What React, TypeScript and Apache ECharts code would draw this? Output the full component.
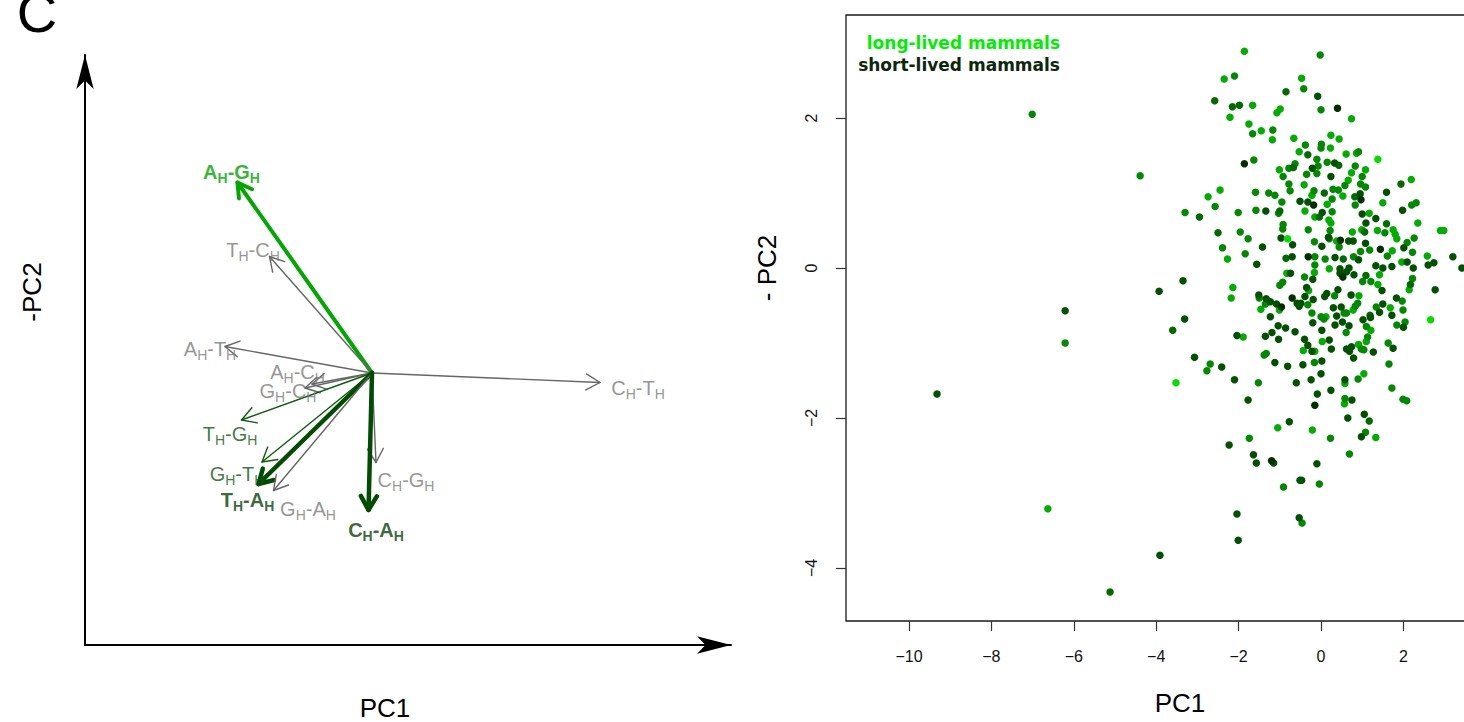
import React, { useEffect, useRef } from 'react';
import * as echarts from 'echarts';

// ---------- Left panel: loadings (biplot arrows) ----------
const loadingNames = ['A_H-G_H', 'T_H-C_H', 'A_H-T_H', 'C_H-T_H', 'A_H-C_H', 'G_H-C_H', 'T_H-G_H', 'G_H-T_H', 'T_H-A_H', 'G_H-A_H', 'C_H-G_H', 'C_H-A_H'];
const loadingPC1 = [-0.269, -0.205, -0.294, 0.456, -0.120, -0.134, -0.261, -0.220, -0.227, -0.197, 0.008, -0.007];
const loadingPC2 = [0.381, 0.233, 0.053, -0.019, -0.022, -0.030, -0.094, -0.178, -0.222, -0.235, -0.179, -0.274];
const loadingGroup = ['bright', 'gray', 'gray', 'gray', 'gray', 'gray', 'dark', 'dark', 'darkBold', 'gray', 'gray', 'darkBold'];
const labelPC1 = [-0.281, -0.238, -0.324, 0.532, -0.149, -0.168, -0.284, -0.270, -0.249, -0.128, 0.068, 0.008];
const labelPC2 = [0.403, 0.246, 0.049, -0.030, 0.003, -0.035, -0.121, -0.202, -0.254, -0.271, -0.214, -0.314];

// ---------- Right panel: PCA scores, by shade (lifespan) ----------
const veryDarkPts = [
  [-1.86, 1.39], [0.40, 2.13], [0.97, 0.91], [0.47, 0.37], [1.44, 0.25], [-0.31, 0.15], [-0.18, 0.84],
  [-0.96, -0.52], [-0.70, -0.40], [-1.20, -2.57], [0.53, -0.12], [-0.15, -1.83],
];
const darkPts = [
  [-1.34, 0.76], [-0.51, 0.89], [-0.97, 0.40], [-0.69, 0.31], [-1.42, 0.28], [-1.56, 0.05], [-0.70, 0.15],
  [-0.08, 2.29], [0.33, 1.40], [-0.21, 1.33], [0.24, 1.22], [-0.32, 0.88], [0.95, 0.99], [1.59, 1.01],
  [0.03, 0.74], [1.00, 0.72], [1.09, 0.60], [1.33, 0.66], [1.98, 0.77], [0.18, 0.41], [0.67, 0.36],
  [0.78, 0.36], [1.08, 0.33], [0.02, 0.29], [2.01, 0.27], [0.34, 0.14], [0.91, 0.11], [2.09, 0.08],
  [2.60, 0.04], [2.74, 0.07], [3.20, 0.15], [3.42, 0.00], [0.46, -0.01], [0.68, 0.00], [1.33, 0.03],
  [1.50, 0.00], [1.72, 0.02], [2.24, 0.00],
  [-0.74, -0.07], [-3.35, -0.17], [-3.93, -0.31], [-1.51, -0.36], [-1.33, -0.41], [-1.23, -0.45],
  [-1.08, -0.48], [-0.58, -0.47], [-0.53, -0.51], [-3.31, -0.68], [-1.23, -0.65], [-1.04, -0.77],
  [-0.86, -0.80], [-0.63, -0.85], [-1.19, -0.86], [-1.35, -0.91], [-1.03, -0.95], [-2.04, -0.90],
  [-1.12, -1.26], [-0.81, -1.31], [-3.07, -1.19], [-2.41, -1.32], [-2.10, -1.49], [-0.60, -1.53],
  [-1.77, -1.76], [-0.77, -2.05], [-2.23, -2.36], [-1.64, -2.49], [-1.57, -2.60], [-1.15, -2.60],
  [-0.51, -2.83],
  [-0.20, -0.15], [0.46, -0.07], [0.62, -0.05], [0.80, -0.09], [1.48, -0.30], [2.77, -0.29],
  [-0.35, -0.26], [-0.39, -0.38], [-0.19, -0.42], [-0.49, -0.47], [0.09, -0.38], [0.14, -0.34],
  [0.41, -0.29], [0.73, -0.36], [0.30, -0.53], [0.49, -0.52], [0.38, -0.64], [1.50, -0.48],
  [1.42, -0.59], [1.83, -0.40], [1.72, -0.63], [1.20, -0.66], [-0.20, -0.73], [0.34, -0.76],
  [0.52, -0.72], [0.68, -0.77], [1.02, -0.69], [2.00, -0.79], [0.02, -0.83], [-0.40, -0.95],
  [-0.32, -1.03], [-0.22, -1.11], [0.20, -0.96], [0.25, -1.08], [0.62, -1.08], [0.74, -1.05],
  [0.69, -1.11], [0.79, -1.20], [1.27, -1.12], [1.75, -1.07], [-0.44, -1.29], [0.02, -1.24],
  [0.00, -1.41], [-0.24, -1.49], [0.58, -1.49], [0.24, -1.63], [-0.09, -1.68], [0.75, -1.76],
  [1.05, -1.95], [0.65, -2.00], [0.98, -2.25], [-0.10, -2.61], [-0.47, -2.83],
  [-2.04, -3.28], [-0.53, -3.33], [-2.01, -3.63], [-3.91, -3.83], [-9.32, -1.68], [-6.21, -0.57],
];
const midDarkPts = [
  [-0.85, 2.35], [-2.58, 2.23], [-2.15, 2.15], [-1.98, 2.17], [-0.67, 1.34], [-2.95, 0.68], [-1.00, 0.76],
  [-2.50, 0.47], [-0.85, 0.13], [-0.32, 1.51], [0.43, 1.37], [0.08, 1.00], [0.82, 0.95], [1.94, 1.12],
  [-0.04, 0.68], [1.59, 0.59], [1.06, 0.48], [0.54, 0.12], [-3.60, -0.83], [1.09, -0.10], [2.17, -0.22],
  [1.19, -0.63], [1.17, -2.04], [-5.12, -4.32],
];
const mediumPts = [
  [-2.10, 2.56], [-1.66, 1.79], [-1.17, 1.84], [-1.63, 1.44], [-4.39, 1.23], [-0.78, 1.33], [-0.63, 1.39],
  [-0.92, 1.22], [-0.78, 1.12], [-0.75, 1.03], [-2.57, 0.82], [-3.30, 0.74], [-2.01, 0.74], [-1.59, 1.01],
  [-1.27, 1.00], [-1.12, 0.97], [-0.95, 0.88], [-1.58, 0.77], [-1.03, 0.73], [-0.92, 0.58], [-0.93, 0.52],
  [-1.96, 0.48], [-1.77, 0.39], [-2.39, 0.27], [-1.84, 0.19],
  [-0.02, 2.84], [-0.42, 2.39], [0.00, 2.11], [-0.38, 1.64], [0.01, 1.65], [0.00, 1.60], [0.91, 1.55],
  [-0.10, 1.45], [0.15, 1.41], [0.83, 1.36], [-0.07, 1.36], [-0.35, 1.25], [-0.10, 1.26], [1.00, 1.22],
  [0.58, 1.10], [0.96, 1.12], [1.08, 1.08], [-0.17, 1.03], [0.29, 1.05], [0.42, 1.04], [0.27, 0.92],
  [0.83, 0.84], [2.20, 0.84], [2.31, 0.87], [0.27, 0.75], [-0.31, 0.51], [0.22, 0.50], [1.55, 0.47],
  [2.26, 0.40], [-0.16, 0.35], [0.20, 0.39], [2.09, 0.34], [0.44, 0.28], [1.18, 0.24], [0.96, 0.22],
  [2.22, 0.21], [-0.15, 0.15], [0.10, 0.12], [0.79, 0.15], [1.61, 0.16], [-0.15, 0.04],
  [-1.00, -0.23], [-0.93, -0.19], [-1.50, -0.40], [-1.35, -0.48], [-1.38, -1.16], [-1.33, -1.14],
  [-2.69, -1.28], [-2.77, -1.37], [-1.52, -1.53], [-1.74, -2.27], [-0.91, -2.92],
  [-0.40, -0.12], [1.01, -0.18], [1.21, -0.18], [2.22, -0.14], [-0.32, -0.49], [0.33, -0.37],
  [0.89, -0.47], [0.83, -0.51], [0.56, -0.60], [0.62, -0.60], [1.34, -0.52], [1.97, -0.44],
  [1.99, -0.56], [-0.22, -0.60], [0.00, -0.65], [0.07, -0.68], [0.61, -0.86], [1.10, -0.78],
  [1.84, -0.76], [2.04, -0.72], [0.98, -1.08], [1.04, -1.09], [1.13, -0.92], [1.63, -1.00],
  [-0.16, -1.26], [0.90, -1.48], [1.65, -1.28], [0.58, -1.74], [1.72, -1.60], [1.99, -1.75],
  [2.08, -1.77], [0.23, -2.27], [1.08, -2.19], [0.69, -2.48], [-0.04, -2.88],
  [-7.01, 2.05], [-6.21, -1.00], [-0.46, -3.40],
];
const brightPts = [
  [-1.86, 2.89], [-2.35, 2.52], [-0.47, 2.53], [-1.66, 2.17], [-2.21, 2.01], [-1.07, 2.07], [-0.99, 2.12],
  [-1.75, 1.92], [-1.45, 1.83], [-1.18, 1.71], [-0.66, 1.73], [-0.53, 1.55], [-1.01, 1.31], [-2.45, 1.04],
  [-2.74, 0.95], [-2.27, 0.12],
  [0.74, 1.99], [0.24, 1.77], [0.44, 1.72], [0.23, 1.60], [0.61, 1.52], [0.86, 1.53], [1.08, 1.31],
  [0.74, 1.27], [0.66, 1.17], [-0.41, 1.11], [-0.22, 0.97], [0.53, 0.96], [0.15, 0.85], [2.19, 1.18],
  [1.50, 0.87], [-0.39, 0.76], [-0.15, 0.68], [0.19, 0.64], [0.24, 0.60], [1.17, 0.73], [2.35, 0.60],
  [0.76, 0.48], [0.99, 0.51], [1.37, 0.50], [1.75, 0.51], [1.80, 0.45], [1.84, 0.39], [2.90, 0.50],
  [2.98, 0.50], [0.38, 0.36], [1.73, 0.23], [1.96, 0.08], [2.58, 0.16], [0.20, -0.01],
  [-0.83, -0.07], [-2.14, -0.26], [-2.18, -0.40], [-1.01, -0.56], [-1.46, -0.55], [-1.89, -0.92],
  [-1.05, -2.13],
  [-0.16, -0.06], [1.42, -0.09], [1.38, -0.22], [2.14, -0.29], [-0.30, -0.30], [0.92, -0.37],
  [0.78, -0.56], [1.68, -0.53], [0.12, -0.65], [1.21, -0.83], [-0.43, -1.10], [-0.15, -1.11],
  [0.03, -0.98], [0.91, -1.02], [1.10, -0.98], [0.58, -1.54], [1.04, -1.41], [0.57, -1.81],
  [-0.21, -2.16], [1.33, -2.26], [-6.63, -3.21],
];
const brightestPts = [
  [-0.81, 0.39], [1.38, 1.45], [-3.52, -1.53], [2.66, -0.69],
];
const xTicks = [-10, -8, -6, -4, -2, 0, 2];
const yTicks = [-4, -2, 0, 2];
const legendTexts = ['long-lived mammals', 'short-lived mammals'];

const FONT = '"Liberation Sans", Arial, sans-serif';

const groupStyle: Record<string, { line: string; width: number; text: string; bold: boolean }> = {
  bright: { line: '#00a800', width: 4, text: '#00a400', bold: true },
  gray: { line: '#666666', width: 1.4, text: '#7a7a7a', bold: false },
  dark: { line: '#0b5e0b', width: 1.4, text: '#0d5a0d', bold: false },
  darkBold: { line: '#004c00', width: 4.5, text: '#064206', bold: true },
};

const toRich = (name: string, key: string) =>
  name
    .split(/(_[A-Z])/)
    .filter((s) => s.length > 0)
    .map((s) => (s[0] === '_' ? `{${key}S|${s.slice(1)}}` : `{${key}N|${s}}`))
    .join('');

const buildRich = () => {
  const rich: Record<string, any> = {};
  Object.keys(groupStyle).forEach((g) => {
    const st = groupStyle[g];
    rich[g + 'N'] = { fontSize: 20, lineHeight: 26, color: st.text, fontWeight: st.bold ? 'bold' : 'normal', fontFamily: FONT };
    rich[g + 'S'] = { fontSize: 14, lineHeight: 16, verticalAlign: 'bottom', color: st.text, fontWeight: st.bold ? 'bold' : 'normal', fontFamily: FONT };
  });
  return rich;
};

const shadeSeries = [
  { name: 'shade4', data: brightPts, color: '#00ae00' },
  { name: 'shade3', data: mediumPts, color: '#008a00' },
  { name: 'shade2', data: midDarkPts, color: '#006c00' },
  { name: 'shade1', data: darkPts, color: '#005200' },
  { name: 'shade0', data: veryDarkPts, color: '#002e00' },
  { name: 'shade5', data: brightestPts, color: '#00e000' },
];

const minusFmt = (v: number) => String(v).replace('-', '\u2212');

export default function App() {
  const ref = useRef<HTMLDivElement>(null);
  useEffect(() => {
    if (!ref.current) return;
    const chart = echarts.init(ref.current, undefined, { renderer: 'svg' });
    const HEAD = 16;
    const option: any = {
      animation: false,
      backgroundColor: '#ffffff',
      grid: [
        { left: 85, top: 55, width: 646, height: 590, show: false, outerBoundsMode: 'none', containLabel: false },
        { left: 846, top: 15, width: 668, height: 606, show: true, borderColor: '#1a1a1a', borderWidth: 1.3, backgroundColor: 'transparent', outerBoundsMode: 'none', containLabel: false },
      ],
      xAxis: [
        {
          gridIndex: 0, type: 'value', min: -0.574, max: 0.718,
          axisLine: { show: true, onZero: false, symbol: ['none', 'arrow'], symbolSize: [13, 34], lineStyle: { color: '#000', width: 2 } },
          axisTick: { show: false }, axisLabel: { show: false }, splitLine: { show: false },
        },
        {
          gridIndex: 1, type: 'value', min: -11.529, max: 4.684, position: 'bottom',
          axisLine: { show: false, onZero: false },
          axisTick: { show: true, length: 10, customValues: xTicks, lineStyle: { color: '#333', width: 1.2 } },
          axisLabel: { show: true, customValues: xTicks, margin: 27, fontSize: 16, color: '#111', fontFamily: FONT, formatter: minusFmt },
          splitLine: { show: false },
        },
      ],
      yAxis: [
        {
          gridIndex: 0, type: 'value', min: -0.544, max: 0.636,
          axisLine: { show: true, onZero: false, symbol: ['none', 'arrow'], symbolSize: [13, 34], lineStyle: { color: '#000', width: 2 } },
          axisTick: { show: false }, axisLabel: { show: false }, splitLine: { show: false },
        },
        {
          gridIndex: 1, type: 'value', min: -4.7067, max: 3.3733, position: 'left',
          axisLine: { show: false, onZero: false },
          axisTick: { show: true, length: 10, customValues: yTicks, lineStyle: { color: '#333', width: 1.2 } },
          axisLabel: { show: true, customValues: yTicks, margin: 27, rotate: 90, fontSize: 16, color: '#111', fontFamily: FONT, formatter: minusFmt },
          splitLine: { show: false },
        },
      ],
      graphic: [
        { type: 'text', x: 37, y: 12, style: { text: 'C', font: `56px ${FONT}`, fill: '#000', align: 'center', verticalAlign: 'middle' } },
        { type: 'text', x: 32, y: 292, rotation: Math.PI / 2, style: { text: '-PC2', font: `26px ${FONT}`, fill: '#000', align: 'center', verticalAlign: 'middle' } },
        { type: 'text', x: 385, y: 708, style: { text: 'PC1', font: `26px ${FONT}`, fill: '#000', align: 'center', verticalAlign: 'middle' } },
        { type: 'text', x: 1180, y: 703, style: { text: 'PC1', font: `26px ${FONT}`, fill: '#000', align: 'center', verticalAlign: 'middle' } },
        { type: 'text', x: 767, y: 268, rotation: Math.PI / 2, style: { text: '- PC2', font: `26px ${FONT}`, fill: '#000', align: 'center', verticalAlign: 'middle' } },
        { type: 'text', x: 1060, y: 43, style: { text: legendTexts[0], font: `bold 17px "DejaVu Sans", sans-serif`, fill: '#00ee00', align: 'right', verticalAlign: 'middle' } },
        { type: 'text', x: 1060, y: 65, style: { text: legendTexts[1], font: `bold 17px "DejaVu Sans", sans-serif`, fill: '#0e260e', align: 'right', verticalAlign: 'middle' } },
      ],
      series: [
        {
          type: 'custom',
          name: 'loadings',
          coordinateSystem: 'cartesian2d',
          xAxisIndex: 0,
          yAxisIndex: 0,
          clip: false,
          data: loadingNames.map((_, i) => [loadingPC1[i], loadingPC2[i], i]),
          renderItem: (params: any, api: any) => {
            const i = api.value(2);
            const st = groupStyle[loadingGroup[i]];
            const o = api.coord([0, 0]);
            const t = api.coord([api.value(0), api.value(1)]);
            const ang = Math.atan2(t[1] - o[1], t[0] - o[0]);
            const a = Math.PI / 6;
            const p1 = [t[0] - HEAD * Math.cos(ang - a), t[1] - HEAD * Math.sin(ang - a)];
            const p2 = [t[0] - HEAD * Math.cos(ang + a), t[1] - HEAD * Math.sin(ang + a)];
            const style = { stroke: st.line, lineWidth: st.width, fill: 'none', lineCap: 'round', lineJoin: 'round' };
            return {
              type: 'group',
              children: [
                { type: 'line', shape: { x1: o[0], y1: o[1], x2: t[0], y2: t[1] }, style },
                { type: 'polyline', shape: { points: [p1, t, p2] }, style },
              ],
            };
          },
        },
        {
          type: 'scatter',
          name: 'loadingLabels',
          xAxisIndex: 0,
          yAxisIndex: 0,
          symbolSize: 1,
          itemStyle: { color: 'rgba(0,0,0,0)' },
          silent: true,
          data: loadingNames.map((n, i) => ({ name: n, value: [labelPC1[i], labelPC2[i]] })),
          label: {
            show: true,
            position: 'inside',
            formatter: (p: any) => toRich(p.name, loadingGroup[p.dataIndex]),
            rich: buildRich(),
          },
        },
        ...shadeSeries.map((s) => ({
          type: 'scatter',
          name: s.name,
          xAxisIndex: 1,
          yAxisIndex: 1,
          symbol: 'circle',
          symbolSize: 7.5,
          itemStyle: { color: s.color, opacity: 1 },
          data: s.data,
        })),
      ],
    };
    chart.setOption(option);
    return () => chart.dispose();
  }, []);
  return <div ref={ref} style={{ position: 'absolute', left: 0, top: 0, width: 1464, height: 722 }} />;
}
